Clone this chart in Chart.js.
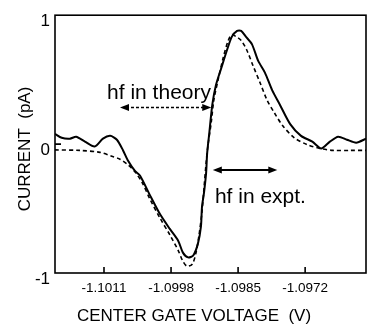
<!DOCTYPE html>
<html>
<head>
<meta charset="utf-8">
<script src="https://cdn.jsdelivr.net/npm/chart.js@4.4.1/dist/chart.umd.min.js"></script>
<style>
  html, body { margin: 0; padding: 0; background: #fff; }
  #wrap { width: 385px; height: 327px; }
</style>
</head>
<body>
<div id="wrap"><canvas id="myChart"></canvas></div>
<script>
/* experiment (solid) */
var expt_v = [-1.10205,-1.10192,-1.10176,-1.10164,-1.10147,-1.10128,-1.10112,-1.10098,-1.10085,-1.10073,
              -1.10063,-1.10050,-1.10040,-1.10021,-1.10001,-1.09982,-1.09966,-1.09957,-1.09947,-1.09937,
              -1.09928,-1.09922,-1.09920,-1.09916,-1.09912,-1.09910,-1.09906,-1.09900,-1.09893,-1.09883,
              -1.09871,-1.09862,-1.09852,-1.09844,-1.09835,-1.09823,-1.09811,-1.09798,-1.09784,-1.09769,
              -1.09749,-1.09728,-1.09706,-1.09689,-1.09672,-1.09656,-1.09639,-1.09621,-1.09602];
var expt_i = [0.079,0.049,0.042,0.057,0.019,-0.019,0.042,0.064,0.034,-0.049,
              -0.132,-0.208,-0.245,-0.396,-0.547,-0.660,-0.751,-0.842,-0.879,-0.864,
              -0.774,-0.638,-0.487,-0.374,-0.223,-0.072,0.079,0.306,0.457,0.585,
              0.736,0.834,0.879,0.879,0.834,0.774,0.645,0.555,0.419,0.306,
              0.155,0.064,0.019,-0.034,0.019,0.057,0.034,0.011,0.042];

/* theory (dashed) */
var theo_v = [-1.10205,-1.10157,-1.10118,-1.10095,-1.10079,-1.10063,-1.10050,-1.10036,-1.10021,-1.10001,
              -1.09982,-1.09966,-1.09957,-1.09949,-1.09939,-1.09932,-1.09926,-1.09920,-1.09916,-1.09912,
              -1.09908,-1.09902,-1.09897,-1.09889,-1.09879,-1.09869,-1.09862,-1.09854,-1.09844,-1.09833,
              -1.09821,-1.09807,-1.09794,-1.09780,-1.09763,-1.09741,-1.09716,-1.09691,-1.09666,-1.09633,-1.09602];
var theo_i = [-0.045,-0.049,-0.064,-0.094,-0.117,-0.162,-0.215,-0.298,-0.426,-0.577,
              -0.706,-0.826,-0.909,-0.947,-0.932,-0.849,-0.713,-0.525,-0.336,-0.147,
              0.004,0.170,0.343,0.494,0.668,0.804,0.849,0.834,0.804,0.728,
              0.608,0.472,0.343,0.245,0.140,0.049,-0.004,-0.034,-0.049,-0.049,-0.049];

var x_ticks = [-1.1011, -1.0998, -1.0985, -1.0972];
var y_ticks = [-1, 0, 1];

Chart.defaults.font.family = "'Liberation Sans', Arial, sans-serif";
Chart.defaults.color = "#000";

function pts(xs, ys) {
  return xs.map(function (x, i) { return { x: x, y: ys[i] }; });
}

function arrowHead(ctx, x, y, dir) {
  ctx.beginPath();
  ctx.moveTo(x, y);
  ctx.lineTo(x - dir * 9, y - 3.5);
  ctx.lineTo(x - dir * 9, y + 3.5);
  ctx.closePath();
  ctx.fill();
}

var framePlugin = {
  id: 'frame',
  afterDraw: function (chart) {
    var ctx = chart.ctx, a = chart.chartArea;
    var xs = chart.scales.x, ys = chart.scales.y;
    ctx.save();
    ctx.strokeStyle = '#000';
    ctx.fillStyle = '#000';
    ctx.lineWidth = 1.6;
    ctx.strokeRect(a.left, a.top, a.right - a.left, a.bottom - a.top);

    // inward ticks
    ctx.beginPath();
    x_ticks.forEach(function (v) {
      var px = xs.getPixelForValue(v);
      ctx.moveTo(px, a.bottom);
      ctx.lineTo(px, a.bottom - 6);
    });
    var p0 = ys.getPixelForValue(0);
    ctx.moveTo(a.left, p0);
    ctx.lineTo(a.left + 6, p0);
    ctx.stroke();

    // axis titles
    ctx.font = "17px 'Liberation Sans', Arial, sans-serif";
    ctx.textAlign = 'center';
    ctx.textBaseline = 'middle';
    ctx.fillText('CENTER GATE VOLTAGE  (V)', 194, 316);
    ctx.save();
    ctx.translate(25, 149);
    ctx.rotate(-Math.PI / 2);
    ctx.fillText('CURRENT  (pA)', 0, 0);
    ctx.restore();

    // hf in theory
    var tx1 = xs.getPixelForValue(-1.10079), tx2 = xs.getPixelForValue(-1.09902);
    var ty = ys.getPixelForValue(0.283);
    ctx.lineWidth = 1.5;
    ctx.setLineDash([3, 2]);
    ctx.beginPath();
    ctx.moveTo(tx1 + 6, ty);
    ctx.lineTo(tx2 - 6, ty);
    ctx.stroke();
    ctx.setLineDash([]);
    arrowHead(ctx, tx1, ty, -1);
    arrowHead(ctx, tx2, ty, 1);

    ctx.font = "21px 'Liberation Sans', Arial, sans-serif";
    ctx.textAlign = 'left';
    ctx.textBaseline = 'middle';
    ctx.fillText('hf in theory', xs.getPixelForValue(-1.10104), ys.getPixelForValue(0.396));

    // hf in expt.
    var ex1 = xs.getPixelForValue(-1.09899), ex2 = xs.getPixelForValue(-1.09774);
    var ey = ys.getPixelForValue(-0.20);
    ctx.lineWidth = 2;
    ctx.beginPath();
    ctx.moveTo(ex1 + 6, ey);
    ctx.lineTo(ex2 - 6, ey);
    ctx.stroke();
    arrowHead(ctx, ex1, ey, -1);
    arrowHead(ctx, ex2, ey, 1);
    ctx.fillText('hf in expt.', xs.getPixelForValue(-1.09895), ys.getPixelForValue(-0.411));
    ctx.restore();
  }
};

var ctx = document.getElementById("myChart");
var myChart = new Chart(ctx, {
  type: 'line',
  data: {
    datasets: [
      {
        data: pts(expt_v, expt_i),
        borderColor: "#000",
        borderWidth: 2,
        pointRadius: 0,
        tension: 0.25,
        fill: false
      },
      {
        data: pts(theo_v, theo_i),
        borderColor: "#000",
        borderWidth: 1.6,
        borderDash: [4, 3],
        pointRadius: 0,
        tension: 0.3,
        fill: false
      }
    ]
  },
  options: {
    responsive: true,
    maintainAspectRatio: false,
    animation: false,
    layout: { padding: { top: 8, right: 19, left: 0, bottom: 0 } },
    plugins: { legend: { display: false }, tooltip: { enabled: false } },
    scales: {
      x: {
        type: 'linear',
        min: -1.10205,
        max: -1.09602,
        grid: { display: false, drawTicks: false },
        border: { display: false },
        afterBuildTicks: function (s) { s.ticks = x_ticks.map(function (v) { return { value: v }; }); },
        afterFit: function (s) { s.height = 54; },
        ticks: {
          padding: 7,
          maxRotation: 0,
          font: { size: 13.5 },
          callback: function (v) { return v.toFixed(4); }
        }
      },
      y: {
        min: -1,
        max: 1,
        grid: { display: false, drawTicks: false },
        border: { display: false },
        afterBuildTicks: function (s) { s.ticks = y_ticks.map(function (v) { return { value: v }; }); },
        afterFit: function (s) { s.width = 55; },
        ticks: {
          padding: 5,
          labelOffset: 6,
          font: { size: 17 },
          callback: function (v) { return String(v); }
        }
      }
    }
  },
  plugins: [framePlugin]
});
</script>
</body>
</html>
